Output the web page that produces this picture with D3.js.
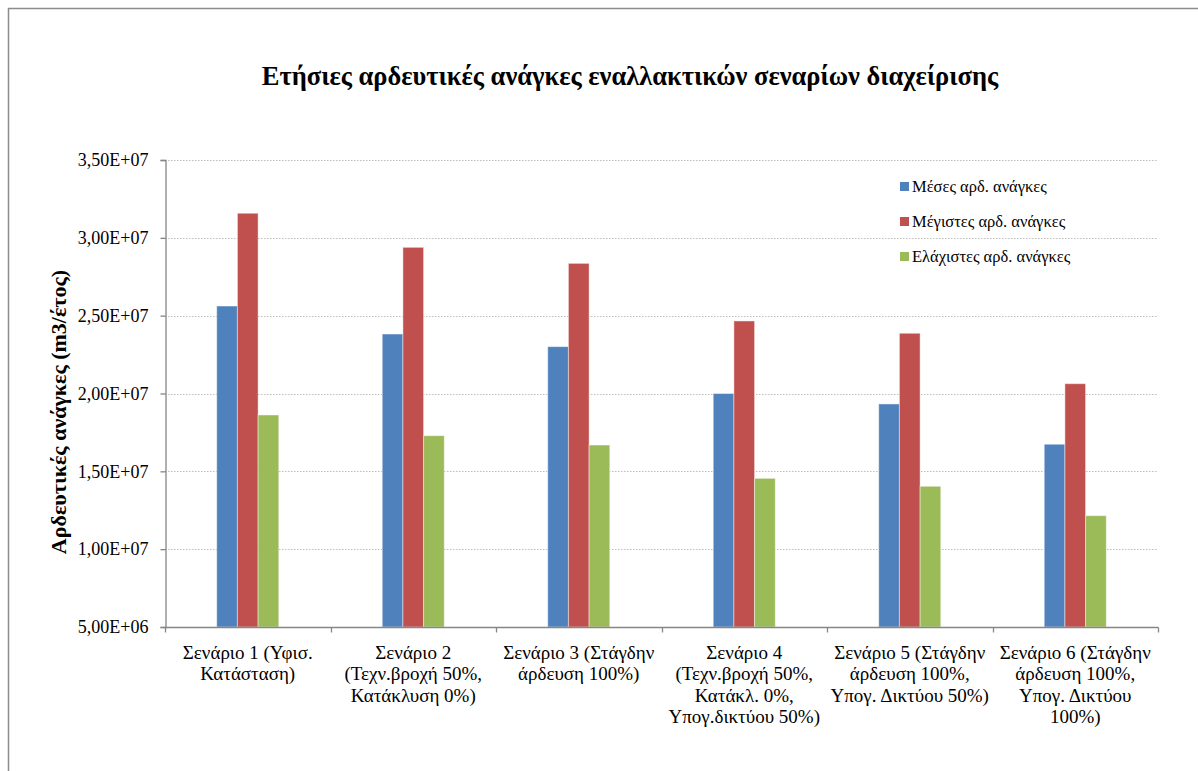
<!DOCTYPE html>
<html>
<head>
<meta charset="utf-8">
<script src="https://cdn.jsdelivr.net/npm/d3@7"></script>
<style>
  html, body { margin: 0; padding: 0; background: #fff; }
  svg { display: block; }
  svg text { font-family: "Liberation Serif", Tinos, "Times New Roman", serif; fill: #000; }
</style>
</head>
<body>
<svg id="chart" width="1198" height="771"></svg>
<script>
const title = "Ετήσιες αρδευτικές ανάγκες εναλλακτικών σεναρίων διαχείρισης";
const yTitle = "Αρδευτικές ανάγκες (m3/έτος)";
const categories = [
  ["Σενάριο 1 (Υφισ.", "Κατάσταση)"],
  ["Σενάριο 2", "(Τεχν.βροχή 50%,", "Κατάκλυση 0%)"],
  ["Σενάριο 3 (Στάγδην", "άρδευση 100%)"],
  ["Σενάριο 4", "(Τεχν.βροχή 50%,", "Κατάκλ. 0%,", "Υπογ.δικτύου 50%)"],
  ["Σενάριο 5 (Στάγδην", "άρδευση 100%,", "Υπογ. Δικτύου 50%)"],
  ["Σενάριο 6 (Στάγδην", "άρδευση 100%,", "Υπογ. Δικτύου", "100%)"]
];
const seriesNames = ["Μέσες αρδ. ανάγκες", "Μέγιστες αρδ. ανάγκες", "Ελάχιστες αρδ. ανάγκες"];
const seriesColors = ["#4F81BD", "#C0504D", "#9BBB59"];
const meanValues = [2.562e7, 2.382e7, 2.301e7, 2.000e7, 1.933e7, 1.674e7];
const maxValues  = [3.158e7, 2.939e7, 2.836e7, 2.466e7, 2.387e7, 2.063e7];
const minValues  = [1.862e7, 1.729e7, 1.669e7, 1.455e7, 1.404e7, 1.215e7];
const yTicks = [5e6, 1e7, 1.5e7, 2e7, 2.5e7, 3e7, 3.5e7];
const yTickLabels = ["5,00E+06", "1,00E+07", "1,50E+07", "2,00E+07", "2,50E+07", "3,00E+07", "3,50E+07"];

const FONT = '"Liberation Serif", Tinos, "Times New Roman", serif';
const series = [meanValues, maxValues, minValues];
const svg = d3.select("#chart");

// outer frame
svg.append("rect").attr("x", 8.5).attr("y", 8.5).attr("width", 1250).attr("height", 800)
  .attr("fill", "none").attr("stroke", "#8c8c8c").attr("stroke-width", 1.5);

const plot = { left: 165, right: 1158, top: 160, bottom: 627 };

const x = d3.scaleBand().domain(d3.range(categories.length))
  .range([plot.left, plot.right]).padding(0);
const y = d3.scaleLinear().domain([5e6, 3.5e7]).range([plot.bottom, plot.top]);

// gridlines
svg.append("g").selectAll("line").data(yTicks.slice(1)).join("line")
  .attr("x1", plot.left).attr("x2", plot.right)
  .attr("y1", d => Math.round(y(d)) + 0.5).attr("y2", d => Math.round(y(d)) + 0.5)
  .attr("stroke", "#bdbdbd").attr("stroke-width", 1.2).attr("stroke-dasharray", "1.5,1.5");

// bars
const barW = x.bandwidth() / 8;
const gBars = svg.append("g");
series.forEach((vals, si) => {
  gBars.append("g").selectAll("rect").data(vals).join("rect")
    .attr("x", (d, i) => x(i) + x.bandwidth() / 2 - 1.5 * barW + si * barW)
    .attr("width", barW)
    .attr("y", d => y(d))
    .attr("height", d => y(5e6) - y(d))
    .attr("fill", seriesColors[si])
    .attr("stroke", "rgba(255,255,255,0.45)")
    .attr("stroke-width", 1);
});

// y axis
const yAxis = d3.axisLeft(y).tickValues(yTicks)
  .tickFormat((d, i) => yTickLabels[i]).tickSize(5).tickPadding(12);
const gy = svg.append("g").attr("transform", `translate(${plot.left + 0.5},0)`).call(yAxis)
  .attr("font-family", FONT).attr("font-size", 18);
gy.select(".domain").attr("stroke", "#868686").attr("stroke-width", 1.3);
gy.selectAll(".tick line").attr("stroke", "#868686").attr("stroke-width", 1.3);
gy.selectAll(".tick text").style("font-family", FONT).attr("font-size", 18).attr("fill", "#000");

// x axis
const gx = svg.append("g").attr("transform", `translate(0,${plot.bottom + 0.5})`);
gx.append("line").attr("x1", plot.left).attr("x2", plot.right + 0.5).attr("y1", 0).attr("y2", 0)
  .attr("stroke", "#868686").attr("stroke-width", 1.3);
const bounds = d3.range(categories.length + 1).map(i => i < categories.length ? x(i) : x(i - 1) + x.bandwidth());
gx.selectAll("line.tk").data(bounds).join("line").attr("class", "tk")
  .attr("x1", d => Math.round(d) + 0.5).attr("x2", d => Math.round(d) + 0.5)
  .attr("y1", 0).attr("y2", 5).attr("stroke", "#868686").attr("stroke-width", 1.3);
categories.forEach((lines, i) => {
  const t = gx.append("text").attr("text-anchor", "middle").attr("font-size", 19).style("font-family", FONT)
    .attr("x", x(i) + x.bandwidth() / 2).attr("y", 31);
  lines.forEach((ln, j) => {
    t.append("tspan").attr("x", x(i) + x.bandwidth() / 2).attr("dy", j === 0 ? 0 : 21.5).text(ln);
  });
});

// title
svg.append("text").attr("x", 630).attr("y", 85).attr("text-anchor", "middle").style("font-family", FONT)
  .attr("font-size", 26.5).attr("font-weight", "bold").text(title);

// y title
svg.append("text").attr("transform", `translate(66,412) rotate(-90)`)
  .style("font-family", FONT)
  .attr("text-anchor", "middle").attr("font-size", 22).attr("font-weight", "bold").text(yTitle);

// legend
const leg = svg.append("g").attr("transform", "translate(900,187)");
seriesNames.forEach((n, i) => {
  const g = leg.append("g").attr("transform", `translate(0,${i * 35})`);
  g.append("rect").attr("x", 0).attr("y", -5).attr("width", 9).attr("height", 9).attr("fill", seriesColors[i]);
  g.append("text").attr("x", 12).attr("y", 5).attr("font-size", 16.5).style("font-family", FONT).text(n);
});
</script>
</body>
</html>
